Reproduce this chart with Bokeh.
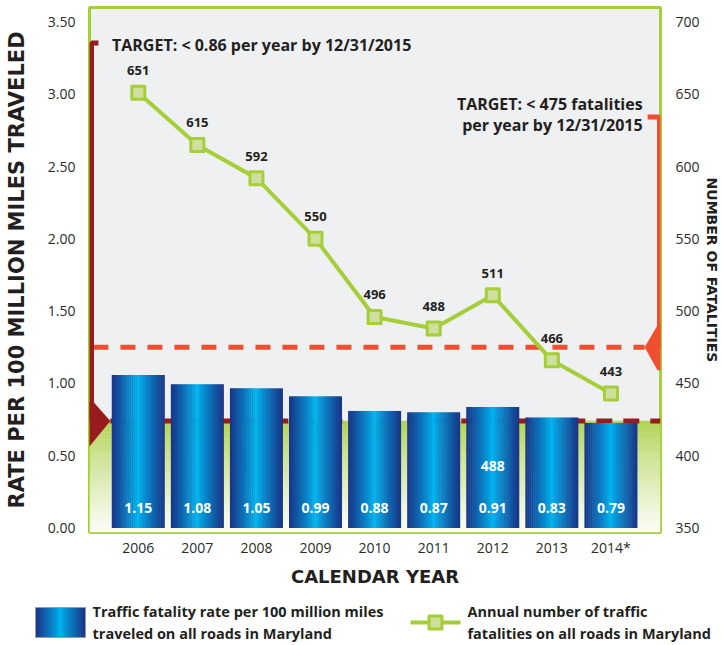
import numpy as np
from bokeh.plotting import figure
from bokeh.models import Range1d, LinearAxis, FixedTicker, NumeralTickFormatter
from bokeh.layouts import column
from bokeh.embed import file_html
from bokeh.resources import INLINE
from bokeh.core.properties import value

# ---------------- data ----------------
years = ["2006", "2007", "2008", "2009", "2010", "2011", "2012", "2013", "2014*"]
rates = [1.15, 1.08, 1.05, 0.99, 0.88, 0.87, 0.91, 0.83, 0.79]
fatalities = [651, 615, 592, 550, 496, 488, 511, 466, 443]
left_ticks = [0.0, 0.5, 1.0, 1.5, 2.0, 2.5, 3.0, 3.5]
right_ticks = [350, 400, 450, 500, 550, 600, 650, 700]
rate_target_drawn = 0.74      # where the dark red target line sits on the left axis
fatal_target = 475            # orange target line on the right axis
note_2012 = "488"
rate_target_text = "TARGET: < 0.86 per year by 12/31/2015"
fatal_target_text = ["TARGET: < 475 fatalities", "per year by 12/31/2015"]
legend_bar_text = ["Traffic fatality rate per 100 million miles", "traveled on all roads in Maryland"]
legend_line_text = ["Annual number of traffic", "fatalities on all roads in Maryland"]

# ---------------- layout constants (page px) ----------------
W, H = 722, 590
FL, FR, FT, FB = 89, 665, 7, 532          # frame edges
PITCH = 59.6
X0 = -(138.2 - FL) / PITCH
X1 = X0 + (FR - FL) / PITCH
PXL = 506 / 3.5                            # px per left-axis unit
ZERO_Y = 527.5
L0 = -(FB - ZERO_Y) / PXL
L1 = (ZERO_Y - FT) / PXL
R0 = 350 + L0 * 100
R1 = 350 + L1 * 100
pxr = PXL / 100
PXB = 133.0                                # px per unit used for the bars
B0 = -(FB - ZERO_Y) / PXB
B1 = (ZERO_Y - FT) / PXB

TXT = "#231F20"
GREEN = "#A6CE39"
DARKRED = "#981B1E"
ORANGE = "#EF4E30"
FONT = "Open Sans"

xs = list(range(len(years)))

p = figure(width=W, height=H, output_backend="svg", toolbar_location=None,
           x_range=Range1d(X0, X1), y_range=Range1d(L0, L1),
           min_border_left=FL, min_border_right=W - FR, min_border_top=FT,
           min_border_bottom=H - FB)
p.frame_align = False
p.extra_y_ranges = {"right": Range1d(R0, R1), "bars": Range1d(B0, B1)}
p.background_fill_color = "#EFF0F2"
p.border_fill_color = "white"
p.outline_line_color = GREEN
p.outline_line_width = 3
p.grid.visible = False

rax = LinearAxis(y_range_name="right", ticker=FixedTicker(ticks=right_ticks))
p.add_layout(rax, "right")

# axes
for ax in [p.xaxis[0], p.yaxis[0], rax]:
    ax.axis_line_color = None
    ax.major_tick_line_color = None
    ax.minor_tick_line_color = None
    ax.major_tick_out = 0
    ax.major_tick_in = 0
    ax.minor_tick_out = 0
    ax.minor_tick_in = 0
    ax.major_label_text_font = FONT
    ax.major_label_text_font_size = "14px"
    ax.major_label_text_color = "#2B2B2B"
    ax.axis_label_text_color = TXT
    ax.axis_label_text_font = "DejaVu Sans"
    ax.axis_label_text_font_style = "bold"
p.yaxis[0].ticker = FixedTicker(ticks=left_ticks)
p.yaxis[0].formatter = NumeralTickFormatter(format="0.00")
p.yaxis[0].major_label_standoff = 14
p.yaxis[0].axis_label = "RATE PER 100 MILLION MILES TRAVELED"
p.yaxis[0].axis_label_text_font_size = "21px"
p.yaxis[0].axis_label_standoff = 16

p.xaxis[0].ticker = FixedTicker(ticks=xs)
p.xaxis[0].major_label_overrides = {i: y for i, y in enumerate(years)}
p.xaxis[0].major_label_standoff = 5
p.xaxis[0].axis_label = "CALENDAR YEAR"
p.xaxis[0].axis_label_text_font_size = "18px"
p.xaxis[0].axis_label_standoff = 6

rax.major_label_standoff = 15
rax.axis_label = "NUMBER OF FATALITIES"
rax.axis_label_text_font_size = "14px"
rax.axis_label_standoff = 1

# green gradient floor under the rate target
nb = 48
edges = np.linspace(L0, rate_target_drawn, nb + 1)
top_c = np.array([176, 211, 82])
bot_c = np.array([253, 254, 250])
cols = []
for i in range(nb):
    t = 1 - (i + 0.5) / nb  # 0 at top, 1 at bottom
    t = t ** 0.85
    c = top_c + (bot_c - top_c) * t
    cols.append("#%02x%02x%02x" % tuple(int(v) for v in c))
p.quad(left=X0, right=X1, bottom=edges[:-1], top=edges[1:] + 0.002, fill_color=cols, line_color=None)
p.quad(left=X0, right=X1, bottom=rate_target_drawn - 4 / PXL, top=rate_target_drawn,
       fill_color="#B3D456", line_color=None)

# dashed target lines
tipL = X0 + 21 / PITCH
p.line([tipL, X1], [rate_target_drawn, rate_target_drawn], line_color=DARKRED, line_width=5,
       line_dash="16 11")
tipR = X1 - 16 / PITCH
p.line([X0 + 4 / PITCH, tipR], [fatal_target, fatal_target], y_range_name="right",
       line_color=ORANGE, line_width=5, line_dash="15 12")

# dark red bracket + arrow (left)
bx = X0 + 2 / PITCH
p.line([X0 + 9 / PITCH, bx, bx], [L1 - 35.5 / PXL, L1 - 35.5 / PXL, rate_target_drawn],
       line_color=DARKRED, line_width=5)
p.patch([X0 - 0.05, X0 + 4 / PITCH, tipL, X0 - 0.05],
        [rate_target_drawn + 19 / PXL, rate_target_drawn + 19 / PXL, rate_target_drawn,
         rate_target_drawn - 29 / PXL],
        fill_color=DARKRED, line_color=None)

# orange bracket + arrow (right)
ox = X1 - 1 / PITCH
p.line([X1 - 13 / PITCH, ox, ox], [R1 - 109.5 / pxr, R1 - 109.5 / pxr, fatal_target],
       y_range_name="right", line_color=ORANGE, line_width=5)
p.patch([X1 + 0.05, X1 - 3 / PITCH, tipR, X1 - 3 / PITCH, X1 + 0.05],
        [fatal_target + 22 / pxr, fatal_target + 22 / pxr, fatal_target,
         fatal_target - 23 / pxr, fatal_target - 23 / pxr],
        y_range_name="right", fill_color=ORANGE, line_color=None)

# gradient bars drawn as stripes
BW = 53 / PITCH
ns = 27
navy = np.array([25, 52, 135])
cyan = np.array([0, 180, 240])
def grad(u):
    d = abs(u - 0.5) * 2
    c = cyan + (navy - cyan) * (d ** 0.9)
    return "#%02x%02x%02x" % tuple(int(v) for v in c)
for k in range(ns):
    u = (k + 0.5) / ns
    off = -BW / 2 + u * BW
    p.vbar(x=[x + off for x in xs], top=rates, bottom=0, width=BW / ns * 1.25,
           y_range_name="bars", fill_color=grad(u), line_color=None)

# bar value labels
p.text(x=xs, y=[0] * len(xs), text=["%.2f" % r for r in rates], y_range_name="bars",
       y_offset=-20, text_align="center", text_baseline="middle", text_color="white",
       text_font=value(FONT), text_font_style="bold", text_font_size="14px")
p.text(x=[6], y=[0], text=[note_2012], y_range_name="bars", y_offset=-62,
       text_align="center", text_baseline="middle", text_color="white",
       text_font=value(FONT), text_font_style="bold", text_font_size="14px")

# fatalities line
p.line(xs, fatalities, y_range_name="right", line_color=GREEN, line_width=4)
p.scatter(xs, fatalities, y_range_name="right", marker="square", size=13,
          fill_color="#CFDF9D", line_color=GREEN, line_width=3, line_join="round")
p.text(x=xs, y=fatalities, text=[str(f) for f in fatalities], y_range_name="right",
       y_offset=-22, text_align="center", text_baseline="middle", text_color=TXT,
       text_font=value(FONT), text_font_style="bold", text_font_size="13px")

# target texts
p.text(x=[-BW / 2], y=[L1 - 37 / PXL], text=[rate_target_text], text_align="left",
       text_baseline="middle", text_color=TXT, text_font=value(FONT),
       text_font_style="bold", text_font_size="16px")
p.text(x=[X1 - 18 / PITCH] * 2, y=[R1 - 96 / pxr, R1 - 117 / pxr], text=fatal_target_text,
       y_range_name="right", text_align="right", text_baseline="middle", text_color=TXT,
       text_font=value(FONT), text_font_style="bold", text_font_size="16px")

# ---------------- legend figure ----------------
LH = 55
lg = figure(width=W, height=LH, output_backend="svg", toolbar_location=None,
            x_range=Range1d(0, W), y_range=Range1d(LH, 0), min_border=0,
            x_axis_type=None, y_axis_type=None)
lg.frame_align = False
lg.outline_line_color = None
lg.grid.visible = False
lg.border_fill_color = "white"
lg.background_fill_color = "white"

sw_l, sw_r, sw_t, sw_b = 35, 85, 17, 47
nsw = 25
for k in range(nsw):
    u = (k + 0.5) / nsw
    w = (sw_r - sw_l) / nsw
    lg.quad(left=sw_l + k * w, right=sw_l + (k + 1) * w + 0.5, top=sw_t, bottom=sw_b,
            fill_color=grad(u), line_color=None)
lg.quad(left=sw_l, right=sw_r, top=sw_t, bottom=sw_b, fill_color=None, line_color="#9A9A9A", line_width=1)
lg.text(x=[92, 92], y=[21, 43], text=legend_bar_text, text_align="left", text_baseline="middle",
        text_color=TXT, text_font=value(FONT), text_font_style="bold", text_font_size="14.5px")
lg.line([410, 460], [32, 32], line_color=GREEN, line_width=4)
lg.scatter([435], [32], marker="square", size=13, fill_color="#CFDF9D", line_color=GREEN,
           line_width=3, line_join="round")
lg.text(x=[467, 467], y=[21, 43], text=legend_line_text, text_align="left", text_baseline="middle",
        text_color=TXT, text_font=value(FONT), text_font_style="bold", text_font_size="14.5px")

layout = column(p, lg, spacing=0)
open("out.html", "w").write(file_html(layout, INLINE))
